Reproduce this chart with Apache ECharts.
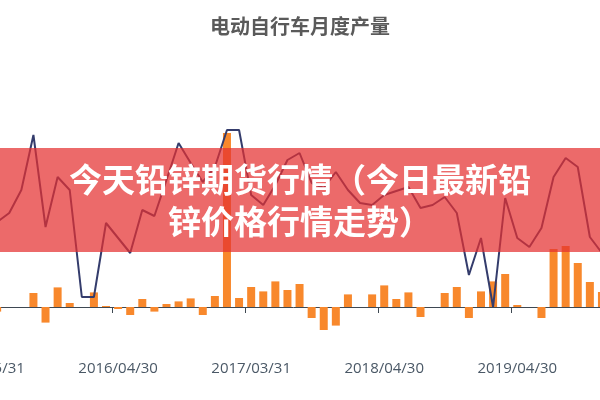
<!DOCTYPE html>
<html>
<head>
<meta charset="utf-8">
<title>电动自行车月度产量</title>
<script src="https://cdn.jsdelivr.net/npm/echarts/dist/echarts.min.js"></script>
<style>
html,body{margin:0;padding:0;background:#fff;overflow:hidden;width:600px;height:400px;}
/* 原图左右都被裁掉一截，画布放大一点再往左挪，多出来的部分裁掉 */
#main{position:absolute;left:-60px;top:0;width:720px;height:440px;}
</style>
</head>
<body>
<div id="main"></div>
<script>
// 日期（缺几个月的数据）
var dates = [
    "2015/05/31","2015/06/30","2015/07/31","2015/08/31","2015/09/30","2015/10/31","2015/11/30","2015/12/31",
    "2016/01/31","2016/02/29","2016/03/31","2016/04/30","2016/05/31","2016/06/30","2016/07/31","2016/08/31",
    "2016/09/30","2016/10/31","2016/11/30","2016/12/31","2017/01/31","2017/02/28","2017/03/31","2017/04/30",
    "2017/05/31","2017/06/30","2017/07/31","2017/08/31","2017/09/30","2017/10/31","2017/11/30","2017/12/31",
    "2018/03/31","2018/04/30","2018/05/31","2018/06/30","2018/07/31","2018/08/31","2018/09/30","2018/10/31",
    "2018/11/30","2018/12/31","2019/02/28","2019/03/31","2019/04/30","2019/05/31","2019/06/30","2019/07/31",
    "2019/08/31","2019/09/30","2019/10/31","2019/11/30"
];
// 柱子：环比变化
var change = [
    2, -2.3, 0, 0, 7, -7.8, 9.8, 2, 0, 7.3, 0.5, -1, -4, 4, -2.3, 1.5,
    2.8, 4.3, -4, 5.5, 87, 4.5, 10, 7.8, 12.8, 8.5, 11.5, -5.5, -11.5, -9.3, 6.3, 0,
    6.3, 10.8, 4, 7.3, -5, 0, 7, 10, -5.5, 7.8, 12.8, 16.5, 1, 0, -5.5, 29,
    30.5, 22, 12.5, 7.5
];
// 折线：月度产量
var output = [
    41, 42.5, 47, 58.5, 86, 40, 65, 58.5, 5, 5, 42, 34.5, 27, 48.5, 45.5, 63.5,
    82, 72, 62.5, 70, 88.5, 88.5, 56, 51, 61, 73.5, 77, 62, 59.5, 67.5, 58.5, 52,
    51, 56, 58, 60, 49.5, 51, 55, 47, 16, 34.5, 0, 54.5, 34.5, 30, 39.5, 65,
    74.5, 70, 35, 27
];
var title_text = "电动自行车月度产量";
var banner_text = "今天铅锌期货行情（今日最新铅\n锌价格行情走势）";

var option = {
    backgroundColor: '#fff',
    animation: false,
    title: {
        text: title_text,
        left: 'center',
        top: 11,
        textStyle: {
            fontFamily: '"Noto Sans CJK SC"',
            fontSize: 20,
            fontWeight: 'bold',
            color: '#5a5a5a'
        }
    },
    grid: {left: 39, right: 52, top: 67, bottom: 93},
    xAxis: {
        type: 'category',
        data: dates,
        axisLine: {onZero: true, lineStyle: {color: '#3e4852', width: 1}},
        axisTick: {show: true, interval: 10, length: 6, lineStyle: {color: '#3e4852'}},
        axisLabel: {
            interval: 10,
            margin: 14, // 标签放在网格底下，不跟着0轴走
            fontFamily: '"Open Sans"',
            fontSize: 15,
            color: '#4a5866'
        }
    },
    yAxis: {
        type: 'value',
        min: -20,
        max: 120,
        axisLabel: {show: false},
        axisLine: {show: false},
        axisTick: {show: false},
        splitLine: {show: false}
    },
    series: [
        {
            name: '环比',
            type: 'bar',
            data: change,
            barWidth: 8,
            itemStyle: {color: '#f8882c'}
        },
        {
            name: '产量',
            type: 'line',
            data: output,
            symbol: 'none',
            lineStyle: {color: '#343c6c', width: 2}
        }
    ],
    // 红色横幅盖在图上（画布挪了60px）
    graphic: [
        {
            type: 'rect',
            z: 100,
            shape: {x: 60, y: 148, width: 600, height: 104},
            style: {fill: 'rgba(228,48,48,0.72)'}
        },
        {
            type: 'text',
            z: 101,
            x: 360,
            y: 200,
            style: {
                text: banner_text,
                font: 'bold 33px "Noto Sans CJK SC"',
                lineHeight: 42,
                fill: '#fff',
                align: 'center',
                verticalAlign: 'middle'
            }
        }
    ]
};

var myChart = echarts.init(document.getElementById('main'));
myChart.setOption(option);
</script>
</body>
</html>
